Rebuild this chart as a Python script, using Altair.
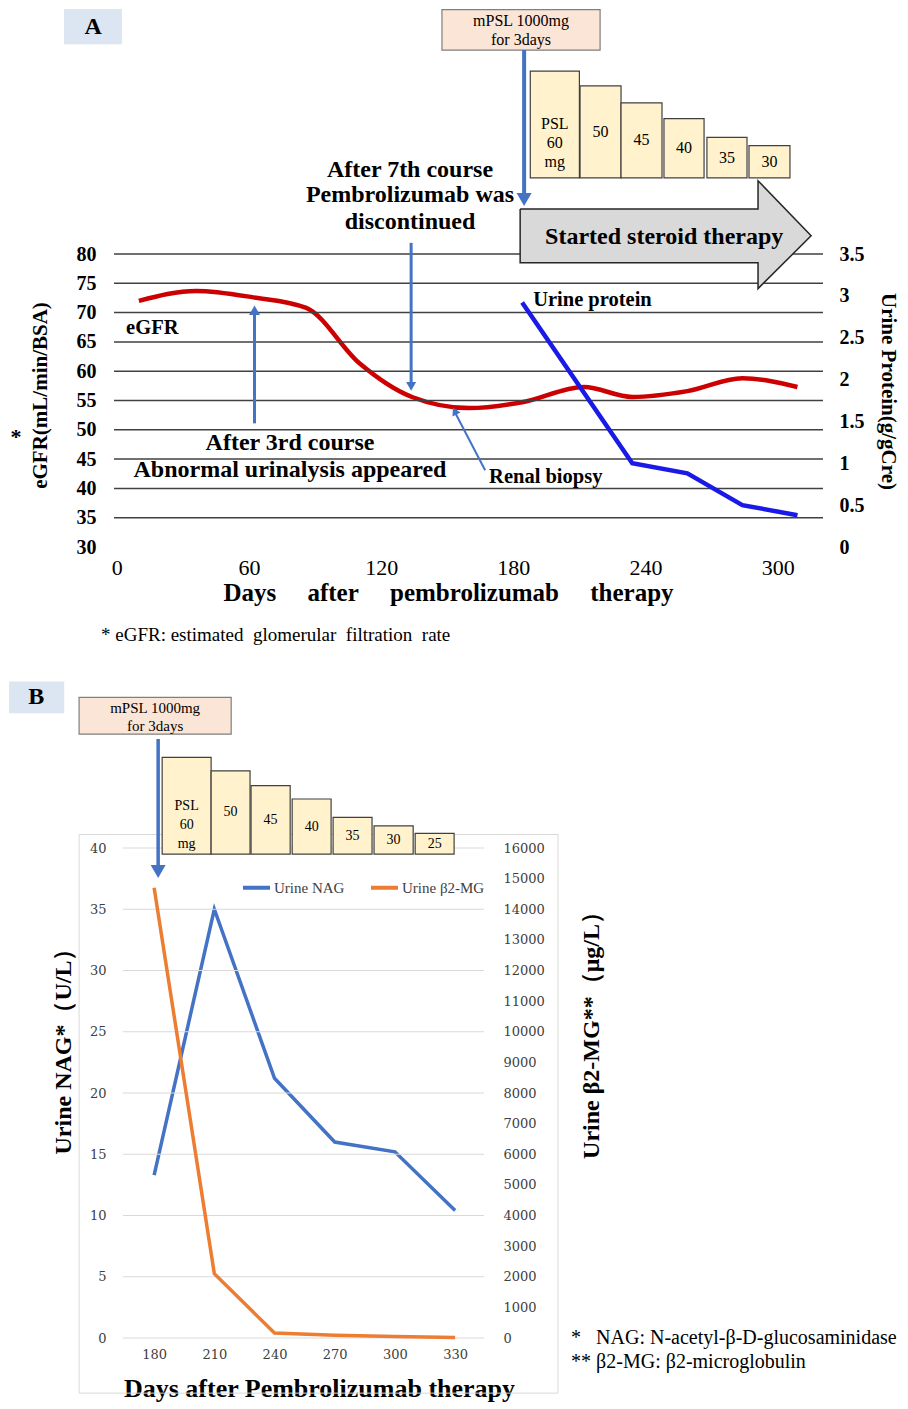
import altair as alt
import pandas as pd

SERIF = "Liberation Serif"
SERIF_TICK = "DejaVu Serif"
ARROW = "#4472c4"
NB = "\u00a0"

# ---------------- Panel A data ----------------
egfr_days = [10, 36, 62, 86, 110, 134, 160, 184, 212, 234, 259, 284, 309]
egfr_vals = [72.0, 73.7, 72.6, 70.8, 61.4, 55.6, 53.7, 54.7, 57.3, 55.6, 56.6, 58.8, 57.3]
protein_days = [184, 234, 259, 284, 309]
protein_vals = [2.92, 1.00, 0.88, 0.50, 0.38]
a_day_ticks = [0, 60, 120, 180, 240, 300]
a_egfr_ticks = [30, 35, 40, 45, 50, 55, 60, 65, 70, 75, 80]
a_grid_vals = [35, 40, 45, 50, 55, 60, 65, 70, 75, 80]
a_protein_ticks = [0, 0.5, 1, 1.5, 2, 2.5, 3, 3.5]
a_psl_labels = ["PSL\n60\nmg", "50", "45", "40", "35", "30"]
a_psl_start = [187.7, 210.3, 228.9, 248.4, 267.9, 287.0]
a_psl_end = [210.0, 228.9, 247.5, 266.6, 286.1, 305.6]
a_psl_top = [111.2, 108.7, 105.8, 103.1, 99.9, 98.5]
a_psl_bottom = 93.0

# ---------------- Panel B data ----------------
b_days = [180, 210, 240, 270, 300, 330]
nag_vals = [13.3, 35.0, 21.2, 16.0, 15.2, 10.4]
b2mg_vals = [14700, 2100, 160, 90, 45, 20]
b_nag_ticks = [0, 5, 10, 15, 20, 25, 30, 35, 40]
b_b2mg_ticks = list(range(0, 16001, 1000))
b_psl_labels = ["PSL\n60\nmg", "50", "45", "40", "35", "30", "25"]
b_psl_start = [184.0, 208.4, 228.3, 248.8, 269.2, 289.6, 310.1]
b_psl_end = [208.4, 227.8, 247.8, 268.2, 288.6, 309.1, 329.5]
b_psl_top = [47.4, 46.3, 45.1, 44.0, 42.5, 41.8, 41.2]
b_psl_bottom = 39.5
series_names = ["Urine NAG", "Urine β2-MG"]
series_colors = ["#4472c4", "#ed7d31"]


# ---------------- helpers ----------------
def rects(xs, ys, df, **mk):
    return alt.Chart(df).mark_rect(**mk).encode(
        x=alt.X("x:Q", scale=xs, axis=None), x2="x2:Q",
        y=alt.Y("y:Q", scale=ys, axis=None), y2="y2:Q")


def texts(xs, ys, df, **mk):
    props = dict(font=SERIF, baseline="middle", align="center", color="black")
    props.update(mk)
    return alt.Chart(df).mark_text(**props).encode(
        x=alt.X("x:Q", scale=xs, axis=None),
        y=alt.Y("y:Q", scale=ys, axis=None),
        text="t:N")


def arrow_lines(xs, ys, df):
    return alt.Chart(df).mark_rule(color=ARROW).encode(
        x=alt.X("x:Q", scale=xs, axis=None), x2="x2:Q",
        y=alt.Y("y:Q", scale=ys, axis=None), y2="y2:Q",
        strokeWidth=alt.StrokeWidth("w:Q", scale=None))


def arrow_heads(xs, ys, df):
    return alt.Chart(df).mark_point(shape="triangle-up", filled=True, color=ARROW,
                                    opacity=1, strokeWidth=0).encode(
        x=alt.X("x:Q", scale=xs, axis=None),
        y=alt.Y("y:Q", scale=ys, axis=None),
        angle=alt.Angle("ang:Q", scale=None),
        size=alt.Size("s:Q", scale=None))


def psl_boxes(xs, ys, starts, ends, tops, bottom, labels, fs):
    df = pd.DataFrame({"x": starts, "x2": ends, "y": tops, "y2": [bottom] * len(tops)})
    boxes = rects(xs, ys, df, fill="#fff2cc", stroke="#404040", strokeWidth=1.2)
    lab = pd.DataFrame({"x": [(a + b) / 2 for a, b in zip(starts, ends)],
                        "y": [(t + bottom) / 2 for t in tops],
                        "t": labels})
    return boxes, texts(xs, ys, lab, fontSize=fs, lineBreak="\n", lineHeight=19)


common_axis = dict(grid=False, domain=False, ticks=False, labelFlush=False, labelOverlap=False,
                   titleFont=SERIF, titleFontWeight="bold", titleColor="black",
                   titleAlign="center", titleBaseline="middle")

# ================= Panel A =================
xA = alt.Scale(domain=[-1.3, 320.6], nice=False, zero=False)
yA = alt.Scale(domain=[30, 80], nice=False, zero=False)
yP = alt.Scale(domain=[0, 3.5], nice=False, zero=False)

x_title_a = (NB * 5).join(["Days", "after", "pembrolizumab", "therapy"])
egfr = alt.Chart(pd.DataFrame({"day": egfr_days, "v": egfr_vals})).mark_line(
    color="#cc0000", strokeWidth=4.5, interpolate="monotone").encode(
    x=alt.X("day:Q", scale=xA, axis=alt.Axis(
        orient="bottom", values=a_day_ticks, labelFont=SERIF, labelFontSize=22,
        labelColor="black", labelPadding=10, title=x_title_a, titleFontSize=25,
        titleX=334, titleY=45, **common_axis)),
    y=alt.Y("v:Q", scale=yA, axis=alt.Axis(
        orient="left", values=a_egfr_ticks, labelFont=SERIF, labelFontSize=20,
        labelFontWeight="bold", labelColor="black", labelPadding=18,
        title="eGFR(mL/min/BSA)", titleFontSize=21, titleAngle=270, titleX=-74, titleY=141,
        **common_axis)))

grid_a = alt.Chart(pd.DataFrame({"v": a_grid_vals})).mark_rule(
    color="#404040", strokeWidth=1.5).encode(y=alt.Y("v:Q", scale=yA, axis=None))

protein = alt.Chart(pd.DataFrame({"day": protein_days, "v": protein_vals})).mark_line(
    color="#1a1ae6", strokeWidth=4.5).encode(
    x=alt.X("day:Q", scale=xA, axis=None),
    y=alt.Y("v:Q", scale=yP, axis=alt.Axis(
        orient="right", values=a_protein_ticks, format="~g", labelAlign="left",
        labelPadding=16, labelFont=SERIF, labelFontSize=20, labelFontWeight="bold",
        labelColor="black", title="Urine Protein(g/gCre)", titleFontSize=21,
        titleAngle=90, titleX=64, titleY=137, **common_axis)))

# annotation boxes
a_label_box = rects(xA, yA, pd.DataFrame({"x": [-24.0], "x2": [2.3], "y": [121.8], "y2": [115.8]}),
                    fill="#dce6f2", strokeWidth=0)
a_mpsl_box = rects(xA, yA, pd.DataFrame({"x": [147.6], "x2": [219.4], "y": [121.7], "y2": [114.8]}),
                   fill="#fbe5d6", stroke="#7f7f7f", strokeWidth=1.2)
a_psl, a_psl_txt = psl_boxes(xA, yA, a_psl_start, a_psl_end, a_psl_top, a_psl_bottom, a_psl_labels, 16)

# big gray arrow "Started steroid therapy": body + head, then outline
arrow_body = rects(xA, yA, pd.DataFrame({"x": [183.1], "x2": [291.1], "y": [87.7], "y2": [78.5]}),
                   fill="#d9d9d9", strokeWidth=0)
arrow_head_fill = alt.Chart(pd.DataFrame({
    "x": [291.1, 315.2], "lo": [74.1, 83.1], "hi": [92.5, 83.1]})).mark_area(
    color="#d9d9d9", opacity=1).encode(
    x=alt.X("x:Q", scale=xA, axis=None), y=alt.Y("lo:Q", scale=yA, axis=None), y2="hi:Q")
arrow_outline = alt.Chart(pd.DataFrame({
    "x": [183.1, 291.1, 291.1, 315.2, 291.1, 291.1, 183.1, 183.1],
    "y": [87.7, 87.7, 92.5, 83.1, 74.1, 78.5, 78.5, 87.7],
    "o": list(range(8))})).mark_line(color="#262626", strokeWidth=1.5).encode(
    x=alt.X("x:Q", scale=xA, axis=None), y=alt.Y("y:Q", scale=yA, axis=None), order="o:Q")

a_lines = arrow_lines(xA, yA, pd.DataFrame({
    "x": [184.9, 133.6, 62.5, 167.2], "x2": [184.9, 133.6, 62.5, 153.9],
    "y": [114.8, 81.9, 51.1, 43.1], "y2": [89.9, 57.7, 70.0, 52.7],
    "w": [4, 3, 3, 2]}))
a_heads = arrow_heads(xA, yA, pd.DataFrame({
    "x": [184.9, 133.6, 62.5, 153.4], "y": [89.3, 57.4, 70.4, 53.2],
    "ang": [180, 180, 0, 333], "s": [225, 100, 121, 81]}))

a_bold_c = texts(xA, yA, pd.DataFrame({
    "x": [133.1, 133.1, 133.1, 78.6, 78.6],
    "y": [94.4, 90.0, 85.5, 47.7, 43.1],
    "t": ["After 7th course", "Pembrolizumab was", "discontinued",
          "After 3rd course", "Abnormal urinalysis appeared"]}),
    fontSize=24, fontWeight="bold")
a_steroid_txt = texts(xA, yA, pd.DataFrame({"x": [248.5], "y": [82.9], "t": ["Started steroid therapy"]}),
                      fontSize=24, fontWeight="bold")
a_letter = texts(xA, yA, pd.DataFrame({"x": [-10.8], "y": [118.7], "t": ["A"]}),
                 fontSize=24, fontWeight="bold")
a_star = texts(xA, yA, pd.DataFrame({"x": [-45.8], "y": [48.7], "t": ["*"]}),
               fontSize=22, fontWeight="bold")
a_bold_l = texts(xA, yA, pd.DataFrame({
    "x": [4.2, 169.0, 189.0], "y": [67.4, 41.9, 72.2],
    "t": ["eGFR", "Renal biopsy", "Urine protein"]}),
    fontSize=20.5, fontWeight="bold", align="left")
a_mpsl_txt = texts(xA, yA, pd.DataFrame({"x": [183.5, 183.5], "y": [119.8, 116.6],
                                         "t": ["mPSL 1000mg", "for 3days"]}), fontSize=16)
a_foot = texts(xA, yA, pd.DataFrame({"x": [-7.2], "y": [14.9],
                                     "t": ["* eGFR: estimated" + NB * 2 + "glomerular" + NB * 2 +
                                           "filtration" + NB * 2 + "rate"]}),
               fontSize=19, align="left")

panel_a = alt.layer(
    egfr, grid_a, a_label_box, a_mpsl_box, a_psl, a_psl_txt, arrow_body, arrow_head_fill,
    arrow_outline, a_lines, a_heads, a_bold_c, a_steroid_txt, a_letter, a_star, a_bold_l,
    a_mpsl_txt, a_foot, protein
).resolve_scale(x="independent", y="independent").properties(width=709, height=293)

# ================= Panel B =================
xB = alt.Scale(domain=[160.0, 344.4], nice=False, zero=False)
yN = alt.Scale(domain=[0, 40], nice=False, zero=False)
yM = alt.Scale(domain=[0, 16000], nice=False, zero=False)

color_b = alt.Color("series:N", scale=alt.Scale(domain=series_names, range=series_colors),
                    legend=alt.Legend(orient="none", legendX=127, legendY=618, direction="horizontal",
                                      title=None, symbolType="stroke", symbolSize=729,
                                      symbolStrokeWidth=4, labelFont=SERIF, labelFontSize=15,
                                      labelColor="#404040", columnPadding=18, labelOffset=2))

tick_lab = dict(labelFont=SERIF_TICK, labelFontSize=13, labelColor="#404040")
nag = alt.Chart(pd.DataFrame({"day": b_days, "v": nag_vals, "series": series_names[0]})).mark_line(
    strokeWidth=3.5).encode(
    x=alt.X("day:Q", scale=xB, axis=alt.Axis(
        orient="bottom", values=b_days, labelPadding=10, title="Days after Pembrolizumab therapy",
        titleFontSize=26, titleX=205, titleY=50, **tick_lab, **common_axis)),
    y=alt.Y("v:Q", scale=yN, axis=alt.Axis(
        orient="left", values=b_nag_ticks, labelPadding=8, title="Urine NAG*（U/L）",
        titleFontSize=24, titleAngle=270, titleX=-51, titleY=197, **tick_lab, **common_axis)),
    color=color_b)

frame_b = rects(xB, yN, pd.DataFrame({"x": [142.6], "x2": [381.3], "y": [41.1], "y2": [-4.5]}),
                fillOpacity=0, stroke="#d9d9d9", strokeWidth=1)
grid_b = alt.Chart(pd.DataFrame({"v": b_nag_ticks, "x": [164.5] * len(b_nag_ticks),
                                 "x2": [344.4] * len(b_nag_ticks)})).mark_rule(
    color="#d9d9d9", strokeWidth=1).encode(
    x=alt.X("x:Q", scale=xB, axis=None), x2="x2:Q", y=alt.Y("v:Q", scale=yN, axis=None))

b2mg = alt.Chart(pd.DataFrame({"day": b_days, "v": b2mg_vals, "series": series_names[1]})).mark_line(
    strokeWidth=3.5).encode(
    x=alt.X("day:Q", scale=xB, axis=None),
    y=alt.Y("v:Q", scale=yM, axis=alt.Axis(
        orient="right", values=b_b2mg_ticks, format="d", labelAlign="left", labelPadding=19,
        title="Urine β2-MG**（μg/L）", titleFontSize=24, titleAngle=270, titleX=107, titleY=181,
        **tick_lab, **common_axis)),
    color=color_b)

b_label_box = rects(xB, yN, pd.DataFrame({"x": [107.7], "x2": [135.2], "y": [53.6], "y2": [51.0]}),
                    fill="#dce6f2", strokeWidth=0)
b_mpsl_box = rects(xB, yN, pd.DataFrame({"x": [142.6], "x2": [218.4], "y": [52.3], "y2": [49.3]}),
                   fill="#fbe5d6", stroke="#7f7f7f", strokeWidth=1.2)
b_psl, b_psl_txt = psl_boxes(xB, yN, b_psl_start, b_psl_end, b_psl_top, b_psl_bottom, b_psl_labels, 14)
b_lines = arrow_lines(xB, yN, pd.DataFrame({"x": [182.0], "x2": [182.0], "y": [48.9], "y2": [38.4],
                                            "w": [3.5]}))
b_heads = arrow_heads(xB, yN, pd.DataFrame({"x": [182.0], "y": [38.08], "ang": [180], "s": [225]}))
b_letter = texts(xB, yN, pd.DataFrame({"x": [121.2], "y": [52.3], "t": ["B"]}),
                 fontSize=24, fontWeight="bold")
b_mpsl_txt = texts(xB, yN, pd.DataFrame({"x": [180.5, 180.5], "y": [51.4, 50.0],
                                         "t": ["mPSL 1000mg", "for 3days"]}), fontSize=15)
b_foot = texts(xB, yN, pd.DataFrame({"x": [387.8, 387.8], "y": [0.0, -1.96],
                                     "t": ["*" + NB * 3 + "NAG: N-acetyl-β-D-glucosaminidase",
                                           "**" + NB + "β2-MG: β2-microglobulin"]}),
               fontSize=20, align="left")

panel_b = alt.layer(
    nag, frame_b, grid_b, b_label_box, b_mpsl_box, b_psl, b_psl_txt, b_lines, b_heads,
    b_letter, b_mpsl_txt, b_foot, b2mg
).resolve_scale(x="independent", y="independent").properties(width=370, height=490)

chart = alt.vconcat(panel_a, panel_b, spacing=301, bounds="flush").properties(
    padding=0,
    background="white",
).configure_view(stroke="transparent")

chart.save("out.html", embed_options={"renderer": "svg", "actions": False})
